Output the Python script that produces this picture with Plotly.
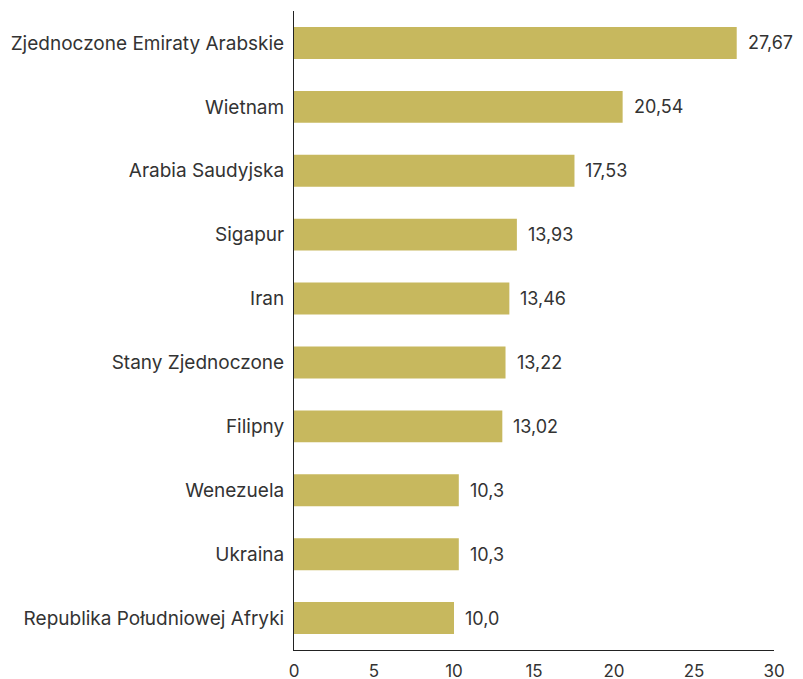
import plotly.graph_objects as go

countries = [
    "Zjednoczone Emiraty Arabskie",
    "Wietnam",
    "Arabia Saudyjska",
    "Sigapur",
    "Iran",
    "Stany Zjednoczone",
    "Filipny",
    "Wenezuela",
    "Ukraina",
    "Republika Południowej Afryki",
]
values = [27.67, 20.54, 17.53, 13.93, 13.46, 13.22, 13.02, 10.3, 10.3, 10.0]
value_labels = ["27,67", "20,54", "17,53", "13,93", "13,46", "13,22", "13,02", "10,3", "10,3", "10,0"]
x_ticks = [0, 5, 10, 15, 20, 25, 30]

FONT = "Inter, Open Sans, sans-serif"
TEXT = "#333333"
BAR = "#C7B85E"

fig = go.Figure(
    go.Bar(
        x=values,
        y=countries,
        orientation="h",
        width=0.5,
        marker=dict(color=BAR, line=dict(width=0)),
        hoverinfo="skip",
    )
)

# value labels just right of each bar end
for c, v, lab in zip(countries, values, value_labels):
    fig.add_annotation(
        x=v, y=c, text=lab, showarrow=False,
        xanchor="left", xshift=9,
        font=dict(family=FONT, size=18, color=TEXT),
    )

fig.update_layout(
    width=803, height=679,
    margin=dict(l=294, r=29, t=11, b=29),
    paper_bgcolor="white", plot_bgcolor="white",
    showlegend=False,
    font=dict(family=FONT, size=18, color=TEXT),
    bargap=0.5,
)
fig.update_xaxes(
    range=[0, 30], tickvals=x_ticks, ticktext=[str(t) for t in x_ticks],
    showgrid=False, zeroline=False, automargin=False,
    showline=True, linecolor="#222222", linewidth=1,
    ticks="", ticklabelstandoff=6,
    tickfont=dict(family=FONT, size=17, color=TEXT),
)
fig.update_yaxes(
    autorange="reversed", automargin=False,
    showgrid=False, zeroline=False,
    showline=True, linecolor="#222222", linewidth=1,
    ticks="", ticklabelstandoff=5,
    tickfont=dict(family=FONT, size=19, color=TEXT),
)

fig.write_html("out.html")
